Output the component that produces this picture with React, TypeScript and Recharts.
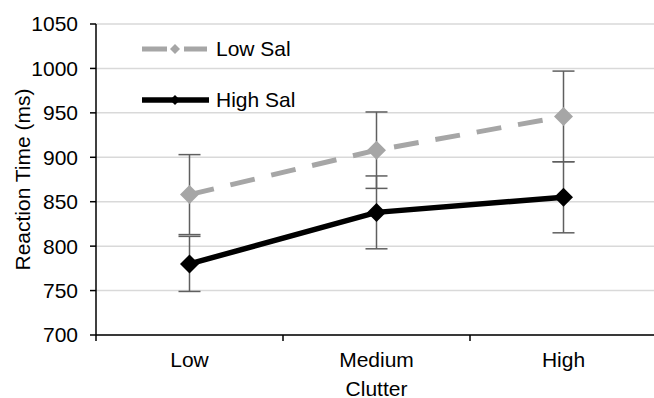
import {
  CartesianGrid,
  ErrorBar,
  Legend,
  Line,
  LineChart,
  XAxis,
  YAxis,
} from "recharts";

const categories = ["Low", "Medium", "High"];
const lowSal = [858, 908, 946];
const lowSalErr = [45, 43, 51];
const highSal = [780, 838, 855];
const highSalErr = [31, 41, 40];
const yTicks = [700, 750, 800, 850, 900, 950, 1000, 1050];
const boundaryTicks = [0, 1, 2, 3];

const FONT = '"Liberation Sans", Arial, sans-serif';
const FONT_SIZE = 21;

const chartData = categories.map((name, i) => ({
  name,
  pos: i + 0.5,
  lowSal: lowSal[i],
  lowSalErr: lowSalErr[i],
  highSal: highSal[i],
  highSalErr: highSalErr[i],
}));
const labelTicks = chartData.map((d) => d.pos);

const series = [
  { key: "lowSal", err: "lowSalErr", name: "Low Sal", color: "#A6A6A6", dash: "25 17", width: 5 },
  { key: "highSal", err: "highSalErr", name: "High Sal", color: "#000000", dash: undefined, width: 5.5 },
];

const diamond = (color: string, r: number) => (props: any) => {
  const { cx, cy, index } = props;
  if (cx == null || cy == null) return <g key={index} />;
  return (
    <polygon
      key={index}
      points={`${cx},${cy - r} ${cx + r},${cy} ${cx},${cy + r} ${cx - r},${cy}`}
      fill={color}
    />
  );
};

function LegendBox() {
  return (
    <div style={{ display: "flex", flexDirection: "column", gap: 27, fontFamily: FONT, fontSize: FONT_SIZE }}>
      {series.map((s) => (
        <div key={s.key} style={{ display: "flex", alignItems: "center", height: 24 }}>
          <svg width={68} height={24}>
            <line x1={0} y1={12} x2={s.dash ? 65 : 67} y2={12} stroke={s.color} strokeWidth={s.width} strokeDasharray={s.dash} />
            <polygon points="33,7 38,12 33,17 28,12" fill={s.color} />
          </svg>
          <span style={{ marginLeft: 6, color: "#000", lineHeight: "24px" }}>{s.name}</span>
        </div>
      ))}
    </div>
  );
}

export default function App() {
  return (
    <div
      style={{
        position: "fixed",
        left: 0,
        top: 0,
        width: 654,
        height: 398,
        overflow: "hidden",
        background: "#fff",
        fontFamily: FONT,
      }}
    >
      <LineChart width={670} height={398} data={chartData} margin={{ top: 24, right: 13, bottom: 0, left: 0 }}>
        <CartesianGrid vertical={false} stroke="#D9D9D9" strokeWidth={1.5} />
        <XAxis
          xAxisId="b_labels"
          dataKey="pos"
          type="number"
          domain={[0, 3]}
          allowDataOverflow
          ticks={labelTicks}
          interval={0}
          height={62}
          axisLine={false}
          tickLine={false}
          tickSize={6}
          tickMargin={10}
          tickFormatter={(v: number) => categories[Math.round(v - 0.5)]}
          tick={{ fill: "#000", fontSize: FONT_SIZE, fontFamily: FONT }}
          label={{ value: "Clutter", position: "insideBottom", offset: 2, fill: "#000", fontSize: FONT_SIZE, fontFamily: FONT }}
        />
        <XAxis
          xAxisId="a_marks"
          dataKey="pos"
          type="number"
          domain={[0, 3]}
          allowDataOverflow
          ticks={boundaryTicks}
          interval={0}
          height={1}
          tickFormatter={() => ""}
          tickSize={6}
          axisLine={{ stroke: "#000", strokeWidth: 1.5 }}
          tickLine={{ stroke: "#000", strokeWidth: 1.5 }}
        />
        <YAxis
          type="number"
          domain={[700, 1050]}
          ticks={yTicks}
          interval={0}
          width={96}
          tickSize={6}
          tickMargin={12}
          axisLine={{ stroke: "#000", strokeWidth: 1.5 }}
          tickLine={{ stroke: "#000", strokeWidth: 1.5 }}
          tick={{ fill: "#000", fontSize: FONT_SIZE, fontFamily: FONT }}
          label={{
            content: (props: any) => {
              const vb = props.viewBox;
              const x = vb.x + 22;
              const y = vb.y + vb.height / 2;
              return (
                <text
                  x={x}
                  y={y}
                  transform={`rotate(-90 ${x} ${y})`}
                  textAnchor="middle"
                  dominantBaseline="central"
                  fill="#000"
                  fontSize={FONT_SIZE}
                  fontFamily={FONT}
                >
                  Reaction Time (ms)
                </text>
              );
            },
          }}
        />
        <Legend
          layout="vertical"
          align="center"
          verticalAlign="middle"
          content={() => <LegendBox />}
          wrapperStyle={{ left: 142, top: 37, width: "auto", height: "auto" }}
        />
        {series.map((s) => (
          <Line
            key={s.key}
            xAxisId="b_labels"
            dataKey={s.key}
            name={s.name}
            stroke={s.color}
            strokeWidth={s.width}
            strokeDasharray={s.dash}
            dot={diamond(s.color, 9.5)}
            activeDot={false}
            isAnimationActive={false}
          >
            <ErrorBar dataKey={s.err} direction="y" width={11} stroke="#5F5F5F" strokeWidth={1.5} />
          </Line>
        ))}
      </LineChart>
    </div>
  );
}
